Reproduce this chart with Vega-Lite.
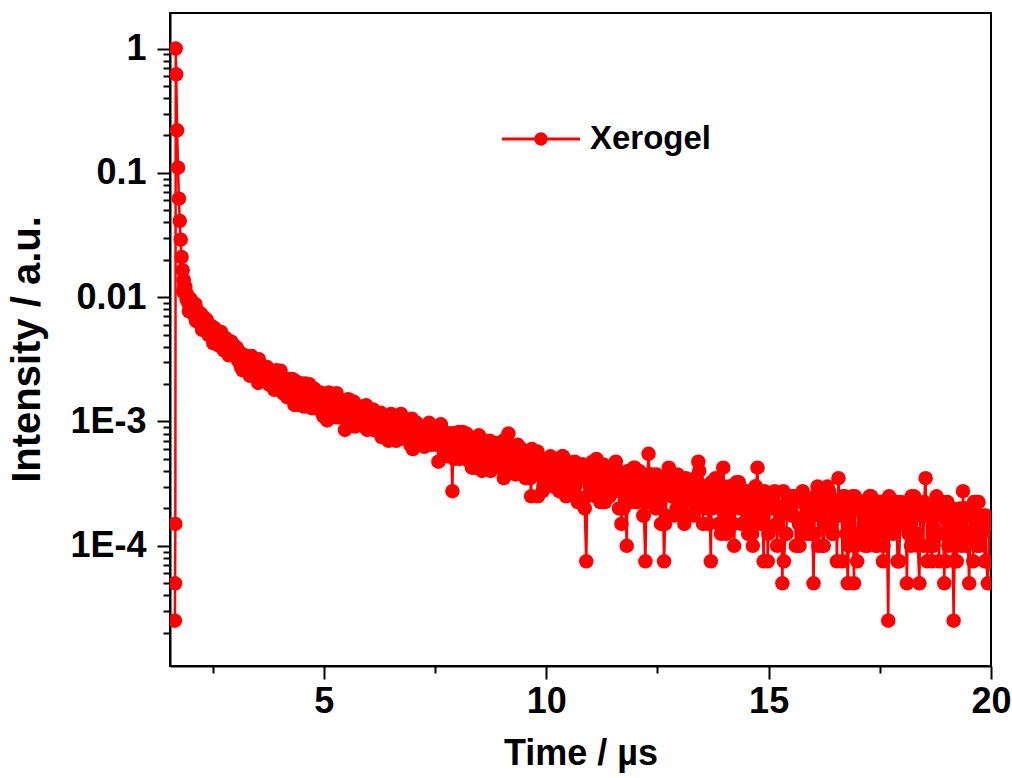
{
  "$schema": "https://vega.github.io/schema/vega-lite/v6.json",
  "width": 821,
  "height": 653,
  "autosize": {"type": "none"},
  "padding": {"left": 170, "top": 13, "right": 21, "bottom": 112},
  "background": "white",
  "config": {
    "view": {"stroke": "black", "strokeWidth": 2},
    "axis": {
      "grid": false,
      "domainColor": "black",
      "domainWidth": 2,
      "tickColor": "black",
      "tickWidth": 2,
      "labelColor": "black",
      "titleColor": "black",
      "labelFont": "Liberation Sans",
      "titleFont": "Liberation Sans",
      "labelFontWeight": "bold",
      "titleFontWeight": "bold",
      "labelFontSize": 36,
      "titleFontSize": 36,
      "labelOverlap": false,
      "labelFlush": false
    }
  },
  "data": {
    "values": [
      {"t": 1.65, "v": 0.000025}, {"t": 1.655, "v": 0.00005}, {"t": 1.66, "v": 0.00015}, {"t": 1.67, "v": 1.0},
      {"t": 1.68, "v": 0.62}, {"t": 1.70, "v": 0.22}, {"t": 1.72, "v": 0.11}, {"t": 1.74, "v": 0.062},
      {"t": 1.76, "v": 0.041}, {"t": 1.78, "v": 0.029}, {"t": 1.80, "v": 0.021},
      {"t": 1.825, "v": 0.0165}, {"t": 1.85, "v": 0.0138}, {"t": 1.875, "v": 0.0118}, {"t": 1.9, "v": 0.0108},
      {"t": 1.925, "v": 0.0105}, {"t": 1.95, "v": 0.009}, {"t": 1.975, "v": 0.00894}, {"t": 2.0, "v": 0.00967},
      {"t": 2.025, "v": 0.00775}, {"t": 2.05, "v": 0.00838}, {"t": 2.075, "v": 0.00758}, {"t": 2.1, "v": 0.00808},
      {"t": 2.125, "v": 0.00647}, {"t": 2.15, "v": 0.00735}, {"t": 2.175, "v": 0.00764}, {"t": 2.2, "v": 0.00647},
      {"t": 2.225, "v": 0.0066}, {"t": 2.25, "v": 0.00586}, {"t": 2.275, "v": 0.00665}, {"t": 2.3, "v": 0.00691},
      {"t": 2.325, "v": 0.00579}, {"t": 2.35, "v": 0.00539}, {"t": 2.375, "v": 0.00594}, {"t": 2.4, "v": 0.00564},
      {"t": 2.425, "v": 0.00496}, {"t": 2.45, "v": 0.00582}, {"t": 2.475, "v": 0.00523}, {"t": 2.5, "v": 0.00535},
      {"t": 2.525, "v": 0.00481}, {"t": 2.55, "v": 0.00553}, {"t": 2.575, "v": 0.00435}, {"t": 2.6, "v": 0.00504},
      {"t": 2.625, "v": 0.00479}, {"t": 2.65, "v": 0.00455}, {"t": 2.675, "v": 0.00495}, {"t": 2.7, "v": 0.00422},
      {"t": 2.725, "v": 0.00457}, {"t": 2.75, "v": 0.00374}, {"t": 2.775, "v": 0.00454}, {"t": 2.8, "v": 0.00429},
      {"t": 2.825, "v": 0.00395}, {"t": 2.85, "v": 0.00445}, {"t": 2.875, "v": 0.00394}, {"t": 2.9, "v": 0.00355},
      {"t": 2.925, "v": 0.00403}, {"t": 2.95, "v": 0.00375}, {"t": 2.975, "v": 0.00411}, {"t": 3.0, "v": 0.00342},
      {"t": 1.8375, "v": 0.0111}, {"t": 1.8625, "v": 0.0122}, {"t": 1.8875, "v": 0.0121}, {"t": 1.9125, "v": 0.00965},
      {"t": 1.9375, "v": 0.00979}, {"t": 1.9625, "v": 0.00773}, {"t": 1.9875, "v": 0.00965}, {"t": 2.0125, "v": 0.00838},
      {"t": 2.0375, "v": 0.00916}, {"t": 2.0625, "v": 0.00731}, {"t": 2.0875, "v": 0.00809}, {"t": 2.1125, "v": 0.00878},
      {"t": 2.1375, "v": 0.00642}, {"t": 2.1625, "v": 0.0071}, {"t": 2.1875, "v": 0.00731}, {"t": 2.2125, "v": 0.0063},
      {"t": 2.2375, "v": 0.00735}, {"t": 2.2625, "v": 0.00546}, {"t": 2.2875, "v": 0.00639}, {"t": 2.3125, "v": 0.00653},
      {"t": 2.3375, "v": 0.00537}, {"t": 2.3625, "v": 0.00661}, {"t": 2.3875, "v": 0.00559}, {"t": 2.4125, "v": 0.00494},
      {"t": 2.4375, "v": 0.00567}, {"t": 2.4625, "v": 0.00589}, {"t": 2.4875, "v": 0.00499}, {"t": 2.5125, "v": 0.00427},
      {"t": 2.5375, "v": 0.00566}, {"t": 2.5625, "v": 0.005}, {"t": 2.5875, "v": 0.0047}, {"t": 2.6125, "v": 0.00519},
      {"t": 2.6375, "v": 0.00407}, {"t": 2.6625, "v": 0.00489}, {"t": 2.6875, "v": 0.00525}, {"t": 2.7125, "v": 0.00415},
      {"t": 2.7375, "v": 0.00447}, {"t": 2.7625, "v": 0.00388}, {"t": 2.7875, "v": 0.0047}, {"t": 2.8125, "v": 0.00399},
      {"t": 2.8375, "v": 0.00437}, {"t": 2.8625, "v": 0.00341}, {"t": 2.8875, "v": 0.00405}, {"t": 2.9125, "v": 0.0044},
      {"t": 2.9375, "v": 0.00348}, {"t": 2.9625, "v": 0.00371}, {"t": 2.9875, "v": 0.00399},
      {"t": 3.05, "v": 0.00325}, {"t": 3.1, "v": 0.00363}, {"t": 3.15, "v": 0.00329}, {"t": 3.2, "v": 0.00274},
      {"t": 3.25, "v": 0.00318}, {"t": 3.3, "v": 0.00289}, {"t": 3.35, "v": 0.00332}, {"t": 3.4, "v": 0.00255},
      {"t": 3.45, "v": 0.00272}, {"t": 3.5, "v": 0.00249}, {"t": 3.55, "v": 0.00279}, {"t": 3.6, "v": 0.00212},
      {"t": 3.65, "v": 0.00253}, {"t": 3.7, "v": 0.00257}, {"t": 3.75, "v": 0.00226}, {"t": 3.8, "v": 0.00205},
      {"t": 3.85, "v": 0.0025}, {"t": 3.9, "v": 0.00217}, {"t": 3.95, "v": 0.00197}, {"t": 4.0, "v": 0.0022},
      {"t": 4.05, "v": 0.00232}, {"t": 4.1, "v": 0.00168}, {"t": 4.15, "v": 0.00201}, {"t": 4.2, "v": 0.00185},
      {"t": 4.25, "v": 0.00204}, {"t": 4.3, "v": 0.00165}, {"t": 4.35, "v": 0.00213}, {"t": 4.4, "v": 0.00175},
      {"t": 4.45, "v": 0.00161}, {"t": 4.5, "v": 0.00185}, {"t": 4.55, "v": 0.00132}, {"t": 4.6, "v": 0.00169},
      {"t": 4.65, "v": 0.0018}, {"t": 4.7, "v": 0.00149}, {"t": 4.75, "v": 0.00165}, {"t": 4.8, "v": 0.00132},
      {"t": 4.85, "v": 0.00149}, {"t": 4.9, "v": 0.00168}, {"t": 4.95, "v": 0.00132}, {"t": 5.0, "v": 0.00149},
      {"t": 5.05, "v": 0.00137}, {"t": 5.1, "v": 0.0017}, {"t": 5.15, "v": 0.00111}, {"t": 5.2, "v": 0.0015},
      {"t": 5.25, "v": 0.00122}, {"t": 5.3, "v": 0.00132}, {"t": 5.35, "v": 0.00145}, {"t": 5.4, "v": 0.00108},
      {"t": 5.45, "v": 0.00132}, {"t": 5.5, "v": 0.00117}, {"t": 5.55, "v": 0.00151}, {"t": 5.6, "v": 0.00104},
      {"t": 5.65, "v": 0.00119}, {"t": 5.7, "v": 0.00091}, {"t": 5.75, "v": 0.00123}, {"t": 5.8, "v": 0.00128},
      {"t": 5.85, "v": 0.00104}, {"t": 5.9, "v": 0.00094}, {"t": 5.95, "v": 0.00135}, {"t": 6.0, "v": 0.00116},
      {"t": 3.025, "v": 0.00395}, {"t": 3.075, "v": 0.00307}, {"t": 3.125, "v": 0.00341}, {"t": 3.175, "v": 0.00258},
      {"t": 3.225, "v": 0.00339}, {"t": 3.275, "v": 0.00298}, {"t": 3.325, "v": 0.00252}, {"t": 3.375, "v": 0.00336},
      {"t": 3.425, "v": 0.00264}, {"t": 3.475, "v": 0.00285}, {"t": 3.525, "v": 0.00204}, {"t": 3.575, "v": 0.00283},
      {"t": 3.625, "v": 0.00253}, {"t": 3.675, "v": 0.00224}, {"t": 3.725, "v": 0.00274}, {"t": 3.775, "v": 0.00197},
      {"t": 3.825, "v": 0.00239}, {"t": 3.875, "v": 0.00241}, {"t": 3.925, "v": 0.00205}, {"t": 3.975, "v": 0.00186},
      {"t": 4.025, "v": 0.00256}, {"t": 4.075, "v": 0.00197}, {"t": 4.125, "v": 0.00207}, {"t": 4.175, "v": 0.00157},
      {"t": 4.225, "v": 0.0022}, {"t": 4.275, "v": 0.00166}, {"t": 4.325, "v": 0.00201}, {"t": 4.375, "v": 0.00182},
      {"t": 4.425, "v": 0.00136}, {"t": 4.475, "v": 0.00203}, {"t": 4.525, "v": 0.00156}, {"t": 4.575, "v": 0.00186},
      {"t": 4.625, "v": 0.0016}, {"t": 4.675, "v": 0.00199}, {"t": 4.725, "v": 0.00128}, {"t": 4.775, "v": 0.00162},
      {"t": 4.825, "v": 0.00131}, {"t": 4.875, "v": 0.0016}, {"t": 4.925, "v": 0.00171}, {"t": 4.975, "v": 0.0013},
      {"t": 5.025, "v": 0.00142}, {"t": 5.075, "v": 0.00102}, {"t": 5.125, "v": 0.0017}, {"t": 5.175, "v": 0.00126},
      {"t": 5.225, "v": 0.0015}, {"t": 5.275, "v": 0.00108}, {"t": 5.325, "v": 0.00135}, {"t": 5.375, "v": 0.00147},
      {"t": 5.425, "v": 0.00113}, {"t": 5.475, "v": 0.000856}, {"t": 5.525, "v": 0.00142}, {"t": 5.575, "v": 0.00123},
      {"t": 5.625, "v": 0.00111}, {"t": 5.675, "v": 0.00144}, {"t": 5.725, "v": 0.000958}, {"t": 5.775, "v": 0.00121},
      {"t": 5.825, "v": 0.000959}, {"t": 5.875, "v": 0.00132}, {"t": 5.925, "v": 0.00109}, {"t": 5.975, "v": 0.000856},
      {"t": 3.0375, "v": 0.00392}, {"t": 3.0875, "v": 0.00329}, {"t": 3.1375, "v": 0.00273}, {"t": 3.1875, "v": 0.00343},
      {"t": 3.2375, "v": 0.00286}, {"t": 3.2875, "v": 0.00332}, {"t": 3.3375, "v": 0.00233}, {"t": 3.3875, "v": 0.0029},
      {"t": 3.4375, "v": 0.00265}, {"t": 3.4875, "v": 0.0023}, {"t": 3.5375, "v": 0.00317}, {"t": 3.5875, "v": 0.0027},
      {"t": 3.6375, "v": 0.00216}, {"t": 3.6875, "v": 0.00231}, {"t": 3.7375, "v": 0.00265}, {"t": 3.7875, "v": 0.00207},
      {"t": 3.8375, "v": 0.00235}, {"t": 3.8875, "v": 0.0018}, {"t": 3.9375, "v": 0.00258}, {"t": 3.9875, "v": 0.0021},
      {"t": 4.0375, "v": 0.00226}, {"t": 4.0875, "v": 0.00168}, {"t": 4.1375, "v": 0.00181}, {"t": 4.1875, "v": 0.00218},
      {"t": 4.2375, "v": 0.00179}, {"t": 4.2875, "v": 0.0022}, {"t": 4.3375, "v": 0.00136}, {"t": 4.3875, "v": 0.0018},
      {"t": 4.4375, "v": 0.00153}, {"t": 4.4875, "v": 0.00183}, {"t": 4.5375, "v": 0.00137}, {"t": 4.5875, "v": 0.00202},
      {"t": 4.6375, "v": 0.0016}, {"t": 4.6875, "v": 0.00143}, {"t": 4.7375, "v": 0.00173}, {"t": 4.7875, "v": 0.00183},
      {"t": 4.8375, "v": 0.00127}, {"t": 4.8875, "v": 0.00152}, {"t": 4.9375, "v": 0.0014}, {"t": 4.9875, "v": 0.0011},
      {"t": 5.0375, "v": 0.00165}, {"t": 5.0875, "v": 0.00149}, {"t": 5.1375, "v": 0.00119}, {"t": 5.1875, "v": 0.00161},
      {"t": 5.2375, "v": 0.0012}, {"t": 5.2875, "v": 0.00169}, {"t": 5.3375, "v": 0.00108}, {"t": 5.3875, "v": 0.00131},
      {"t": 5.4375, "v": 0.00113}, {"t": 5.4875, "v": 0.00129}, {"t": 5.5375, "v": 0.00104}, {"t": 5.5875, "v": 0.00148},
      {"t": 5.6375, "v": 0.00117}, {"t": 5.6875, "v": 0.000948}, {"t": 5.7375, "v": 0.00125}, {"t": 5.7875, "v": 0.00105},
      {"t": 5.8375, "v": 0.00131}, {"t": 5.8875, "v": 0.000916}, {"t": 5.9375, "v": 0.00119}, {"t": 5.9875, "v": 0.00103},
      {"t": 6.07, "v": 0.001125}, {"t": 6.14, "v": 0.00085}, {"t": 6.21, "v": 0.001025}, {"t": 6.28, "v": 0.001175},
      {"t": 6.35, "v": 0.0009}, {"t": 6.42, "v": 0.000825}, {"t": 6.49, "v": 0.00105}, {"t": 6.56, "v": 0.00095},
      {"t": 6.63, "v": 0.0007}, {"t": 6.7, "v": 0.001025}, {"t": 6.77, "v": 0.00085}, {"t": 6.84, "v": 0.000925},
      {"t": 6.91, "v": 0.000725}, {"t": 6.98, "v": 0.00105}, {"t": 7.05, "v": 0.000725}, {"t": 7.12, "v": 0.0008},
      {"t": 7.19, "v": 0.0009}, {"t": 7.26, "v": 0.000625}, {"t": 7.33, "v": 0.000825}, {"t": 7.4, "v": 0.000725},
      {"t": 7.47, "v": 0.0009}, {"t": 7.54, "v": 0.00065}, {"t": 7.61, "v": 0.000675}, {"t": 7.68, "v": 0.000775},
      {"t": 7.75, "v": 0.000525}, {"t": 7.82, "v": 0.0008}, {"t": 7.89, "v": 0.000275}, {"t": 7.96, "v": 0.0006},
      {"t": 8.03, "v": 0.000825}, {"t": 8.1, "v": 0.000525}, {"t": 8.17, "v": 0.00065}, {"t": 8.24, "v": 0.0006},
      {"t": 8.31, "v": 0.000725}, {"t": 8.38, "v": 0.000425}, {"t": 8.45, "v": 0.00065}, {"t": 8.52, "v": 0.000675},
      {"t": 8.59, "v": 0.000525}, {"t": 8.66, "v": 0.000475}, {"t": 8.73, "v": 0.0007}, {"t": 8.8, "v": 0.00055},
      {"t": 8.87, "v": 0.000475}, {"t": 8.94, "v": 0.000575}, {"t": 9.01, "v": 0.000625}, {"t": 9.08, "v": 0.000375},
      {"t": 9.15, "v": 0.0008}, {"t": 9.22, "v": 0.00055}, {"t": 9.29, "v": 0.000475}, {"t": 9.36, "v": 0.00065},
      {"t": 9.43, "v": 0.0004}, {"t": 9.5, "v": 0.00045}, {"t": 9.57, "v": 0.00055}, {"t": 9.64, "v": 0.00035},
      {"t": 9.71, "v": 0.000475}, {"t": 9.78, "v": 0.00055}, {"t": 9.85, "v": 0.000375}, {"t": 9.92, "v": 0.000275},
      {"t": 9.99, "v": 0.000475}, {"t": 10.06, "v": 0.000425}, {"t": 10.13, "v": 0.000375}, {"t": 10.2, "v": 0.000475},
      {"t": 10.27, "v": 0.0003}, {"t": 10.34, "v": 0.000425}, {"t": 10.41, "v": 0.0005}, {"t": 10.48, "v": 0.0003},
      {"t": 10.55, "v": 0.000375}, {"t": 10.62, "v": 0.000425}, {"t": 10.69, "v": 0.00025}, {"t": 10.76, "v": 0.000375},
      {"t": 10.83, "v": 0.00045}, {"t": 10.9, "v": 0.000075}, {"t": 10.97, "v": 0.00035}, {"t": 11.04, "v": 0.000475},
      {"t": 11.11, "v": 0.00025}, {"t": 11.18, "v": 0.000375}, {"t": 11.25, "v": 0.0003}, {"t": 11.32, "v": 0.000225},
      {"t": 11.39, "v": 0.0004}, {"t": 11.46, "v": 0.00035}, {"t": 11.53, "v": 0.000275}, {"t": 11.6, "v": 0.000375},
      {"t": 11.67, "v": 0.000325}, {"t": 11.74, "v": 0.0002}, {"t": 11.81, "v": 0.0001}, {"t": 11.88, "v": 0.0003},
      {"t": 11.95, "v": 0.00035}, {"t": 12.02, "v": 0.000225}, {"t": 12.09, "v": 0.0004}, {"t": 12.16, "v": 0.000275},
      {"t": 12.23, "v": 0.000075}, {"t": 12.3, "v": 0.00055}, {"t": 12.37, "v": 0.000375}, {"t": 12.44, "v": 0.000325},
      {"t": 12.51, "v": 0.00025}, {"t": 12.58, "v": 0.00015}, {"t": 12.65, "v": 0.000075}, {"t": 12.72, "v": 0.0003},
      {"t": 12.79, "v": 0.000275}, {"t": 12.86, "v": 0.00035}, {"t": 12.93, "v": 0.0002}, {"t": 13.0, "v": 0.0003},
      {"t": 13.07, "v": 0.000175}, {"t": 13.14, "v": 0.00035}, {"t": 13.21, "v": 0.00025}, {"t": 13.28, "v": 0.000225},
      {"t": 13.35, "v": 0.00035}, {"t": 13.42, "v": 0.000475}, {"t": 13.49, "v": 0.000275}, {"t": 13.56, "v": 0.0003},
      {"t": 13.63, "v": 0.000225}, {"t": 13.7, "v": 0.000075}, {"t": 13.77, "v": 0.000275}, {"t": 13.84, "v": 0.000325},
      {"t": 13.91, "v": 0.0002}, {"t": 13.98, "v": 0.000425}, {"t": 14.05, "v": 0.000125}, {"t": 14.12, "v": 0.0003},
      {"t": 14.19, "v": 0.0002}, {"t": 14.26, "v": 0.00025}, {"t": 14.33, "v": 0.000325}, {"t": 14.4, "v": 0.00015},
      {"t": 14.47, "v": 0.000225}, {"t": 14.54, "v": 0.000125}, {"t": 14.61, "v": 0.00025}, {"t": 14.68, "v": 0.000175},
      {"t": 14.75, "v": 0.000425}, {"t": 14.82, "v": 0.000175}, {"t": 14.89, "v": 0.000075}, {"t": 14.96, "v": 0.000225},
      {"t": 15.03, "v": 0.0002}, {"t": 15.1, "v": 0.00025}, {"t": 15.17, "v": 0.00015}, {"t": 15.24, "v": 0.0002},
      {"t": 15.31, "v": 0.00005}, {"t": 15.38, "v": 0.000125}, {"t": 15.45, "v": 0.0002}, {"t": 15.52, "v": 0.000175},
      {"t": 15.59, "v": 0.00025}, {"t": 15.66, "v": 0.0001}, {"t": 15.73, "v": 0.00025}, {"t": 15.8, "v": 0.00015},
      {"t": 15.87, "v": 0.000225}, {"t": 15.94, "v": 0.000125}, {"t": 16.01, "v": 0.00005}, {"t": 16.08, "v": 0.00025},
      {"t": 16.15, "v": 0.000175}, {"t": 16.22, "v": 0.0001}, {"t": 16.29, "v": 0.0002}, {"t": 16.36, "v": 0.000275},
      {"t": 16.43, "v": 0.000125}, {"t": 16.5, "v": 0.000175}, {"t": 16.57, "v": 0.00035}, {"t": 16.64, "v": 0.000225},
      {"t": 16.71, "v": 0.00025}, {"t": 16.78, "v": 0.00005}, {"t": 16.85, "v": 0.000125}, {"t": 16.92, "v": 0.00005},
      {"t": 16.99, "v": 0.000075}, {"t": 17.06, "v": 0.000225}, {"t": 17.13, "v": 0.000175}, {"t": 17.2, "v": 0.00015},
      {"t": 17.27, "v": 0.00025}, {"t": 17.34, "v": 0.000125}, {"t": 17.41, "v": 0.0001}, {"t": 17.48, "v": 0.0002},
      {"t": 17.55, "v": 0.000175}, {"t": 17.62, "v": 0.000125}, {"t": 17.69, "v": 0.000025}, {"t": 17.76, "v": 0.00015},
      {"t": 17.83, "v": 0.000175}, {"t": 17.9, "v": 0.000075}, {"t": 17.97, "v": 0.000225}, {"t": 18.04, "v": 0.0002},
      {"t": 18.11, "v": 0.00005}, {"t": 18.18, "v": 0.000175}, {"t": 18.25, "v": 0.000125}, {"t": 18.32, "v": 0.000225},
      {"t": 18.39, "v": 0.00005}, {"t": 18.46, "v": 0.000175}, {"t": 18.53, "v": 0.00035}, {"t": 18.6, "v": 0.0002},
      {"t": 18.67, "v": 0.000075}, {"t": 18.74, "v": 0.0002}, {"t": 18.81, "v": 0.000125}, {"t": 18.88, "v": 0.000175},
      {"t": 18.95, "v": 0.00005}, {"t": 19.02, "v": 0.000225}, {"t": 19.09, "v": 0.000125}, {"t": 19.16, "v": 0.000025},
      {"t": 19.23, "v": 0.000075}, {"t": 19.3, "v": 0.0002}, {"t": 19.37, "v": 0.000275}, {"t": 19.44, "v": 0.0001},
      {"t": 19.51, "v": 0.00005}, {"t": 19.58, "v": 0.000175}, {"t": 19.65, "v": 0.00015}, {"t": 19.72, "v": 0.000225},
      {"t": 19.79, "v": 0.000125}, {"t": 19.86, "v": 0.000075}, {"t": 19.93, "v": 0.00005}, {"t": 20.0, "v": 0.00015},
      {"t": 6.035, "v": 0.000925}, {"t": 6.105, "v": 0.00125}, {"t": 6.175, "v": 0.00105}, {"t": 6.245, "v": 0.000825},
      {"t": 6.315, "v": 0.001125}, {"t": 6.385, "v": 0.00095}, {"t": 6.455, "v": 0.0007}, {"t": 6.525, "v": 0.0011},
      {"t": 6.595, "v": 0.000975}, {"t": 6.665, "v": 0.000825}, {"t": 6.735, "v": 0.00115}, {"t": 6.805, "v": 0.00075},
      {"t": 6.875, "v": 0.000875}, {"t": 6.945, "v": 0.00065}, {"t": 7.015, "v": 0.000925}, {"t": 7.085, "v": 0.000975},
      {"t": 7.155, "v": 0.00075}, {"t": 7.225, "v": 0.00065}, {"t": 7.295, "v": 0.000825}, {"t": 7.365, "v": 0.000975},
      {"t": 7.435, "v": 0.000675}, {"t": 7.505, "v": 0.00075}, {"t": 7.575, "v": 0.000475}, {"t": 7.645, "v": 0.000875},
      {"t": 7.715, "v": 0.000775}, {"t": 7.785, "v": 0.0006}, {"t": 7.855, "v": 0.0008}, {"t": 7.925, "v": 0.0005},
      {"t": 7.995, "v": 0.000675}, {"t": 8.065, "v": 0.00075}, {"t": 8.135, "v": 0.000575}, {"t": 8.205, "v": 0.0008},
      {"t": 8.275, "v": 0.000475}, {"t": 8.345, "v": 0.00065}, {"t": 8.415, "v": 0.000575}, {"t": 8.485, "v": 0.000775},
      {"t": 8.555, "v": 0.0004}, {"t": 8.625, "v": 0.000675}, {"t": 8.695, "v": 0.000625}, {"t": 8.765, "v": 0.000475},
      {"t": 8.835, "v": 0.000675}, {"t": 8.905, "v": 0.000475}, {"t": 8.975, "v": 0.000525}, {"t": 9.045, "v": 0.00035},
      {"t": 9.115, "v": 0.000725}, {"t": 9.185, "v": 0.000525}, {"t": 9.255, "v": 0.0004}, {"t": 9.325, "v": 0.00055},
      {"t": 9.395, "v": 0.00045}, {"t": 9.465, "v": 0.000575}, {"t": 9.535, "v": 0.00035}, {"t": 9.605, "v": 0.0005},
      {"t": 9.675, "v": 0.0006}, {"t": 9.745, "v": 0.000375}, {"t": 9.815, "v": 0.00025}, {"t": 9.885, "v": 0.0005},
      {"t": 9.955, "v": 0.000425}, {"t": 10.025, "v": 0.000375}, {"t": 10.095, "v": 0.000525}, {"t": 10.165, "v": 0.0003},
      {"t": 10.235, "v": 0.00045}, {"t": 10.305, "v": 0.000375}, {"t": 10.375, "v": 0.000525}, {"t": 10.445, "v": 0.00025},
      {"t": 10.515, "v": 0.0004}, {"t": 10.585, "v": 0.00045}, {"t": 10.655, "v": 0.0003}, {"t": 10.725, "v": 0.00035},
      {"t": 10.795, "v": 0.00045}, {"t": 10.865, "v": 0.0002}, {"t": 10.935, "v": 0.000375}, {"t": 11.005, "v": 0.000425},
      {"t": 11.075, "v": 0.0003}, {"t": 11.145, "v": 0.000325}, {"t": 11.215, "v": 0.000225}, {"t": 11.285, "v": 0.00045},
      {"t": 11.355, "v": 0.00035}, {"t": 11.425, "v": 0.00025}, {"t": 11.495, "v": 0.000375}, {"t": 11.565, "v": 0.000475},
      {"t": 11.635, "v": 0.0002}, {"t": 11.705, "v": 0.00035}, {"t": 11.775, "v": 0.00025}, {"t": 11.845, "v": 0.0004},
      {"t": 11.915, "v": 0.000275}, {"t": 11.985, "v": 0.000425}, {"t": 12.055, "v": 0.000225}, {"t": 12.125, "v": 0.00035},
      {"t": 12.195, "v": 0.000175}, {"t": 12.265, "v": 0.0003}, {"t": 12.335, "v": 0.00035}, {"t": 12.405, "v": 0.00025},
      {"t": 12.475, "v": 0.000375}, {"t": 12.545, "v": 0.000225}, {"t": 12.615, "v": 0.0003}, {"t": 12.685, "v": 0.000175},
      {"t": 12.755, "v": 0.000425}, {"t": 12.825, "v": 0.00025}, {"t": 12.895, "v": 0.0003}, {"t": 12.965, "v": 0.0002},
      {"t": 13.035, "v": 0.00035}, {"t": 13.105, "v": 0.00015}, {"t": 13.175, "v": 0.0003}, {"t": 13.245, "v": 0.000275},
      {"t": 13.315, "v": 0.000175}, {"t": 13.385, "v": 0.00035}, {"t": 13.455, "v": 0.00025}, {"t": 13.525, "v": 0.00015},
      {"t": 13.595, "v": 0.0003}, {"t": 13.665, "v": 0.000275}, {"t": 13.735, "v": 0.0002}, {"t": 13.805, "v": 0.00035},
      {"t": 13.875, "v": 0.00015}, {"t": 13.945, "v": 0.000225}, {"t": 14.015, "v": 0.000275}, {"t": 14.085, "v": 0.0002},
      {"t": 14.155, "v": 0.0003}, {"t": 14.225, "v": 0.0001}, {"t": 14.295, "v": 0.00025}, {"t": 14.365, "v": 0.00025},
      {"t": 14.435, "v": 0.0002}, {"t": 14.505, "v": 0.000275}, {"t": 14.575, "v": 0.00015}, {"t": 14.645, "v": 0.0001},
      {"t": 14.715, "v": 0.0003}, {"t": 14.785, "v": 0.0002}, {"t": 14.855, "v": 0.000175}, {"t": 14.925, "v": 0.00025},
      {"t": 14.995, "v": 0.000125}, {"t": 15.065, "v": 0.000225}, {"t": 15.135, "v": 0.000275}, {"t": 15.205, "v": 0.00015},
      {"t": 15.275, "v": 0.0002}, {"t": 15.345, "v": 0.000075}, {"t": 15.415, "v": 0.000225}, {"t": 15.485, "v": 0.00025},
      {"t": 15.555, "v": 0.000175}, {"t": 15.625, "v": 0.000225}, {"t": 15.695, "v": 0.0001}, {"t": 15.765, "v": 0.000275},
      {"t": 15.835, "v": 0.000175}, {"t": 15.905, "v": 0.000125}, {"t": 15.975, "v": 0.000225}, {"t": 16.045, "v": 0.00025},
      {"t": 16.115, "v": 0.0001}, {"t": 16.185, "v": 0.0002}, {"t": 16.255, "v": 0.00015}, {"t": 16.325, "v": 0.0003},
      {"t": 16.395, "v": 0.00015}, {"t": 16.465, "v": 0.000225}, {"t": 16.535, "v": 0.000075}, {"t": 16.605, "v": 0.000175},
      {"t": 16.675, "v": 0.00025}, {"t": 16.745, "v": 0.000125}, {"t": 16.815, "v": 0.00015}, {"t": 16.885, "v": 0.00025},
      {"t": 16.955, "v": 0.0001}, {"t": 17.025, "v": 0.0002}, {"t": 17.095, "v": 0.000225}, {"t": 17.165, "v": 0.0001},
      {"t": 17.235, "v": 0.0002}, {"t": 17.305, "v": 0.00025}, {"t": 17.375, "v": 0.000125}, {"t": 17.445, "v": 0.00015},
      {"t": 17.515, "v": 0.000225}, {"t": 17.585, "v": 0.0001}, {"t": 17.655, "v": 0.0002}, {"t": 17.725, "v": 0.000175},
      {"t": 17.795, "v": 0.000125}, {"t": 17.865, "v": 0.000225}, {"t": 17.935, "v": 0.000075}, {"t": 18.005, "v": 0.00015},
      {"t": 18.075, "v": 0.0002}, {"t": 18.145, "v": 0.000125}, {"t": 18.215, "v": 0.00025}, {"t": 18.285, "v": 0.000125},
      {"t": 18.355, "v": 0.0001}, {"t": 18.425, "v": 0.000175}, {"t": 18.495, "v": 0.000225}, {"t": 18.565, "v": 0.000075},
      {"t": 18.635, "v": 0.000175}, {"t": 18.705, "v": 0.0001}, {"t": 18.775, "v": 0.00025}, {"t": 18.845, "v": 0.000125},
      {"t": 18.915, "v": 0.0002}, {"t": 18.985, "v": 0.000075}, {"t": 19.055, "v": 0.00015}, {"t": 19.125, "v": 0.0002},
      {"t": 19.195, "v": 0.0001}, {"t": 19.265, "v": 0.000175}, {"t": 19.335, "v": 0.0001}, {"t": 19.405, "v": 0.0002},
      {"t": 19.475, "v": 0.000125}, {"t": 19.545, "v": 0.000175}, {"t": 19.615, "v": 0.000225}, {"t": 19.685, "v": 0.0001},
      {"t": 19.755, "v": 0.000125}, {"t": 19.825, "v": 0.000175}, {"t": 19.895, "v": 0.000075}, {"t": 19.965, "v": 0.00015},
      {"t": 6.02, "v": 0.001025}, {"t": 6.09, "v": 0.000925}, {"t": 6.16, "v": 0.001175}, {"t": 6.23, "v": 0.00105},
      {"t": 6.3, "v": 0.00075}, {"t": 6.37, "v": 0.00095}, {"t": 6.44, "v": 0.000825}, {"t": 6.51, "v": 0.00115},
      {"t": 6.58, "v": 0.001025}, {"t": 6.65, "v": 0.00085}, {"t": 6.72, "v": 0.000725}, {"t": 6.79, "v": 0.001025},
      {"t": 6.86, "v": 0.000825}, {"t": 6.93, "v": 0.000925}, {"t": 7.0, "v": 0.0006}, {"t": 7.07, "v": 0.000925},
      {"t": 7.14, "v": 0.000725}, {"t": 7.21, "v": 0.000825}, {"t": 7.28, "v": 0.00065}, {"t": 7.35, "v": 0.000925},
      {"t": 7.42, "v": 0.00065}, {"t": 7.49, "v": 0.00075}, {"t": 7.56, "v": 0.000675}, {"t": 7.63, "v": 0.00095},
      {"t": 7.7, "v": 0.00055}, {"t": 7.77, "v": 0.00075}, {"t": 7.84, "v": 0.00065}, {"t": 7.91, "v": 0.0008},
      {"t": 7.98, "v": 0.000575}, {"t": 8.05, "v": 0.0005}, {"t": 8.12, "v": 0.000825}, {"t": 8.19, "v": 0.000575},
      {"t": 8.26, "v": 0.00065}, {"t": 8.33, "v": 0.000425}, {"t": 8.4, "v": 0.0007}, {"t": 8.47, "v": 0.000575},
      {"t": 8.54, "v": 0.000475}, {"t": 8.61, "v": 0.0007}, {"t": 8.68, "v": 0.000625}, {"t": 8.75, "v": 0.0004},
      {"t": 8.82, "v": 0.0006}, {"t": 8.89, "v": 0.0005}, {"t": 8.96, "v": 0.000425}, {"t": 9.03, "v": 0.0007},
      {"t": 9.1, "v": 0.00045}, {"t": 9.17, "v": 0.0006}, {"t": 9.24, "v": 0.000525}, {"t": 9.31, "v": 0.000375},
      {"t": 9.38, "v": 0.0004}, {"t": 9.45, "v": 0.0006}, {"t": 9.52, "v": 0.000475}, {"t": 9.59, "v": 0.000525},
      {"t": 9.66, "v": 0.00025}, {"t": 9.73, "v": 0.0004}, {"t": 9.8, "v": 0.000575}, {"t": 9.87, "v": 0.00045},
      {"t": 9.94, "v": 0.0003}, {"t": 10.01, "v": 0.0004}, {"t": 10.08, "v": 0.0005}, {"t": 10.15, "v": 0.000325},
      {"t": 10.22, "v": 0.00045}, {"t": 10.29, "v": 0.000275}, {"t": 10.36, "v": 0.000525}, {"t": 10.43, "v": 0.0003},
      {"t": 10.5, "v": 0.000375}, {"t": 10.57, "v": 0.000325}, {"t": 10.64, "v": 0.000475}, {"t": 10.71, "v": 0.000225},
      {"t": 10.78, "v": 0.00035}, {"t": 10.85, "v": 0.000425}, {"t": 10.92, "v": 0.00025}, {"t": 10.99, "v": 0.0003},
      {"t": 11.06, "v": 0.000275}, {"t": 11.13, "v": 0.0005}, {"t": 11.2, "v": 0.000375}, {"t": 11.27, "v": 0.000225},
      {"t": 11.34, "v": 0.00035}, {"t": 11.41, "v": 0.00025}, {"t": 11.48, "v": 0.000425}, {"t": 11.55, "v": 0.0003},
      {"t": 11.62, "v": 0.0004}, {"t": 11.69, "v": 0.00015}, {"t": 11.76, "v": 0.000275}, {"t": 11.83, "v": 0.000325},
      {"t": 11.9, "v": 0.000225}, {"t": 11.97, "v": 0.000425}, {"t": 12.04, "v": 0.000275}, {"t": 12.11, "v": 0.00035},
      {"t": 12.18, "v": 0.000175}, {"t": 12.25, "v": 0.000225}, {"t": 12.32, "v": 0.000375}, {"t": 12.39, "v": 0.0003},
      {"t": 12.46, "v": 0.0002}, {"t": 12.53, "v": 0.00025}, {"t": 12.6, "v": 0.00035}, {"t": 12.67, "v": 0.00015},
      {"t": 12.74, "v": 0.0003}, {"t": 12.81, "v": 0.000275}, {"t": 12.88, "v": 0.000175}, {"t": 12.95, "v": 0.000375},
      {"t": 13.02, "v": 0.000225}, {"t": 13.09, "v": 0.000325}, {"t": 13.16, "v": 0.000175}, {"t": 13.23, "v": 0.00025},
      {"t": 13.3, "v": 0.000225}, {"t": 13.37, "v": 0.0002}, {"t": 13.44, "v": 0.0004}, {"t": 13.51, "v": 0.0003},
      {"t": 13.58, "v": 0.0002}, {"t": 13.65, "v": 0.00015}, {"t": 13.72, "v": 0.000325}, {"t": 13.79, "v": 0.000225},
      {"t": 13.86, "v": 0.000275}, {"t": 13.93, "v": 0.000125}, {"t": 14.0, "v": 0.0003}, {"t": 14.07, "v": 0.000175},
      {"t": 14.14, "v": 0.00025}, {"t": 14.21, "v": 0.00015}, {"t": 14.28, "v": 0.000325}, {"t": 14.35, "v": 0.0002},
      {"t": 14.42, "v": 0.00015}, {"t": 14.49, "v": 0.00025}, {"t": 14.56, "v": 0.000175}, {"t": 14.63, "v": 0.000125},
      {"t": 14.7, "v": 0.0003}, {"t": 14.77, "v": 0.000225}, {"t": 14.84, "v": 0.00015}, {"t": 14.91, "v": 0.000275},
      {"t": 14.98, "v": 0.000075}, {"t": 15.05, "v": 0.0002}, {"t": 15.12, "v": 0.000225}, {"t": 15.19, "v": 0.0001},
      {"t": 15.26, "v": 0.000175}, {"t": 15.33, "v": 0.000275}, {"t": 15.4, "v": 0.000125}, {"t": 15.47, "v": 0.0002},
      {"t": 15.54, "v": 0.00025}, {"t": 15.61, "v": 0.0001}, {"t": 15.68, "v": 0.00015}, {"t": 15.75, "v": 0.00025},
      {"t": 15.82, "v": 0.000125}, {"t": 15.89, "v": 0.0002}, {"t": 15.96, "v": 0.000175}, {"t": 16.03, "v": 0.000125},
      {"t": 16.1, "v": 0.0003}, {"t": 16.17, "v": 0.000225}, {"t": 16.24, "v": 0.0001}, {"t": 16.31, "v": 0.00015},
      {"t": 16.38, "v": 0.00025}, {"t": 16.45, "v": 0.000125}, {"t": 16.52, "v": 0.000175}, {"t": 16.59, "v": 0.000225},
      {"t": 16.66, "v": 0.000075}, {"t": 16.73, "v": 0.000175}, {"t": 16.8, "v": 0.0001}, {"t": 16.87, "v": 0.0002},
      {"t": 16.94, "v": 0.00025}, {"t": 17.01, "v": 0.000125}, {"t": 17.08, "v": 0.000225}, {"t": 17.15, "v": 0.00015},
      {"t": 17.22, "v": 0.0001}, {"t": 17.29, "v": 0.0002}, {"t": 17.36, "v": 0.000175}, {"t": 17.43, "v": 0.0001},
      {"t": 17.5, "v": 0.000225}, {"t": 17.57, "v": 0.000075}, {"t": 17.64, "v": 0.0002}, {"t": 17.71, "v": 0.00025},
      {"t": 17.78, "v": 0.00015}, {"t": 17.85, "v": 0.000225}, {"t": 17.92, "v": 0.000075}, {"t": 17.99, "v": 0.0002},
      {"t": 18.06, "v": 0.00015}, {"t": 18.13, "v": 0.000175}, {"t": 18.2, "v": 0.0001}, {"t": 18.27, "v": 0.00025},
      {"t": 18.34, "v": 0.000125}, {"t": 18.41, "v": 0.0002}, {"t": 18.48, "v": 0.0001}, {"t": 18.55, "v": 0.000175},
      {"t": 18.62, "v": 0.0001}, {"t": 18.69, "v": 0.0002}, {"t": 18.76, "v": 0.000125}, {"t": 18.83, "v": 0.000075},
      {"t": 18.9, "v": 0.000225}, {"t": 18.97, "v": 0.000175}, {"t": 19.04, "v": 0.0001}, {"t": 19.11, "v": 0.0002},
      {"t": 19.18, "v": 0.000075}, {"t": 19.25, "v": 0.00015}, {"t": 19.32, "v": 0.000175}, {"t": 19.39, "v": 0.000125},
      {"t": 19.46, "v": 0.0002}, {"t": 19.53, "v": 0.000125}, {"t": 19.6, "v": 0.000075}, {"t": 19.67, "v": 0.000225},
      {"t": 19.74, "v": 0.0001}, {"t": 19.81, "v": 0.00015}, {"t": 19.88, "v": 0.000175}, {"t": 19.95, "v": 0.000075}
    ]
  },
  "encoding": {
    "x": {
      "field": "t",
      "type": "quantitative",
      "scale": {"domain": [1.54, 20], "nice": false, "zero": false},
      "axis": {
        "title": "Time / µs",
        "values": [2.5, 5, 7.5, 10, 12.5, 15, 17.5, 20],
        "labelExpr": "datum.value % 5 == 0 ? format(datum.value, 'd') : ''",
        "tickSize": {"condition": {"test": "datum.value % 5 == 0", "value": 13}, "value": 7},
        "labelPadding": 5,
        "titlePadding": 17
      }
    },
    "y": {
      "field": "v",
      "type": "quantitative",
      "scale": {"type": "log", "domain": [0.0000108, 1.93], "nice": false},
      "axis": {
        "title": "Intensity / a.u.",
        "titleFontSize": 40,
        "titleY": 336,
        "values": [0.00002, 0.00003, 0.00004, 0.00005, 0.00006, 0.00007, 0.00008, 0.00009,
                   0.0001, 0.0002, 0.0003, 0.0004, 0.0005, 0.0006, 0.0007, 0.0008, 0.0009,
                   0.001, 0.002, 0.003, 0.004, 0.005, 0.006, 0.007, 0.008, 0.009,
                   0.01, 0.02, 0.03, 0.04, 0.05, 0.06, 0.07, 0.08, 0.09,
                   0.1, 0.2, 0.3, 0.4, 0.5, 0.6, 0.7, 0.8, 0.9, 1],
        "labelExpr": "abs(log(datum.value)/LN10 - round(log(datum.value)/LN10)) > 0.01 ? '' : (datum.value > 0.005 ? format(datum.value, '') : '1E' + round(log(datum.value)/LN10))",
        "tickSize": {"condition": {"test": "abs(log(datum.value)/LN10 - round(log(datum.value)/LN10)) < 0.01", "value": 13}, "value": 7},
        "labelPadding": 11,
        "titlePadding": 22
      }
    }
  },
  "layer": [
    {
      "mark": {"type": "line", "color": "#ff0000", "strokeWidth": 2.5, "clip": true}
    },
    {
      "mark": {"type": "point", "filled": true, "shape": "circle", "size": 210, "opacity": 1, "clip": true},
      "encoding": {
        "color": {
          "datum": "Xerogel",
          "scale": {"range": ["#ff0000"]},
          "legend": {
            "title": null,
            "orient": "none",
            "legendX": 332,
            "legendY": 87,
            "padding": 0,
            "symbolType": "M-1,-0.04H1V0.04H-1Z M0.17,0A0.17,0.17,0,1,1,-0.17,0A0.17,0.17,0,1,1,0.17,0Z",
            "symbolSize": 6084,
            "symbolStrokeWidth": 0,
            "symbolOpacity": 1,
            "labelFont": "Liberation Sans",
            "labelFontWeight": "bold",
            "labelFontSize": 33,
            "labelColor": "black",
            "labelOffset": 10
          }
        }
      }
    }
  ]
}
